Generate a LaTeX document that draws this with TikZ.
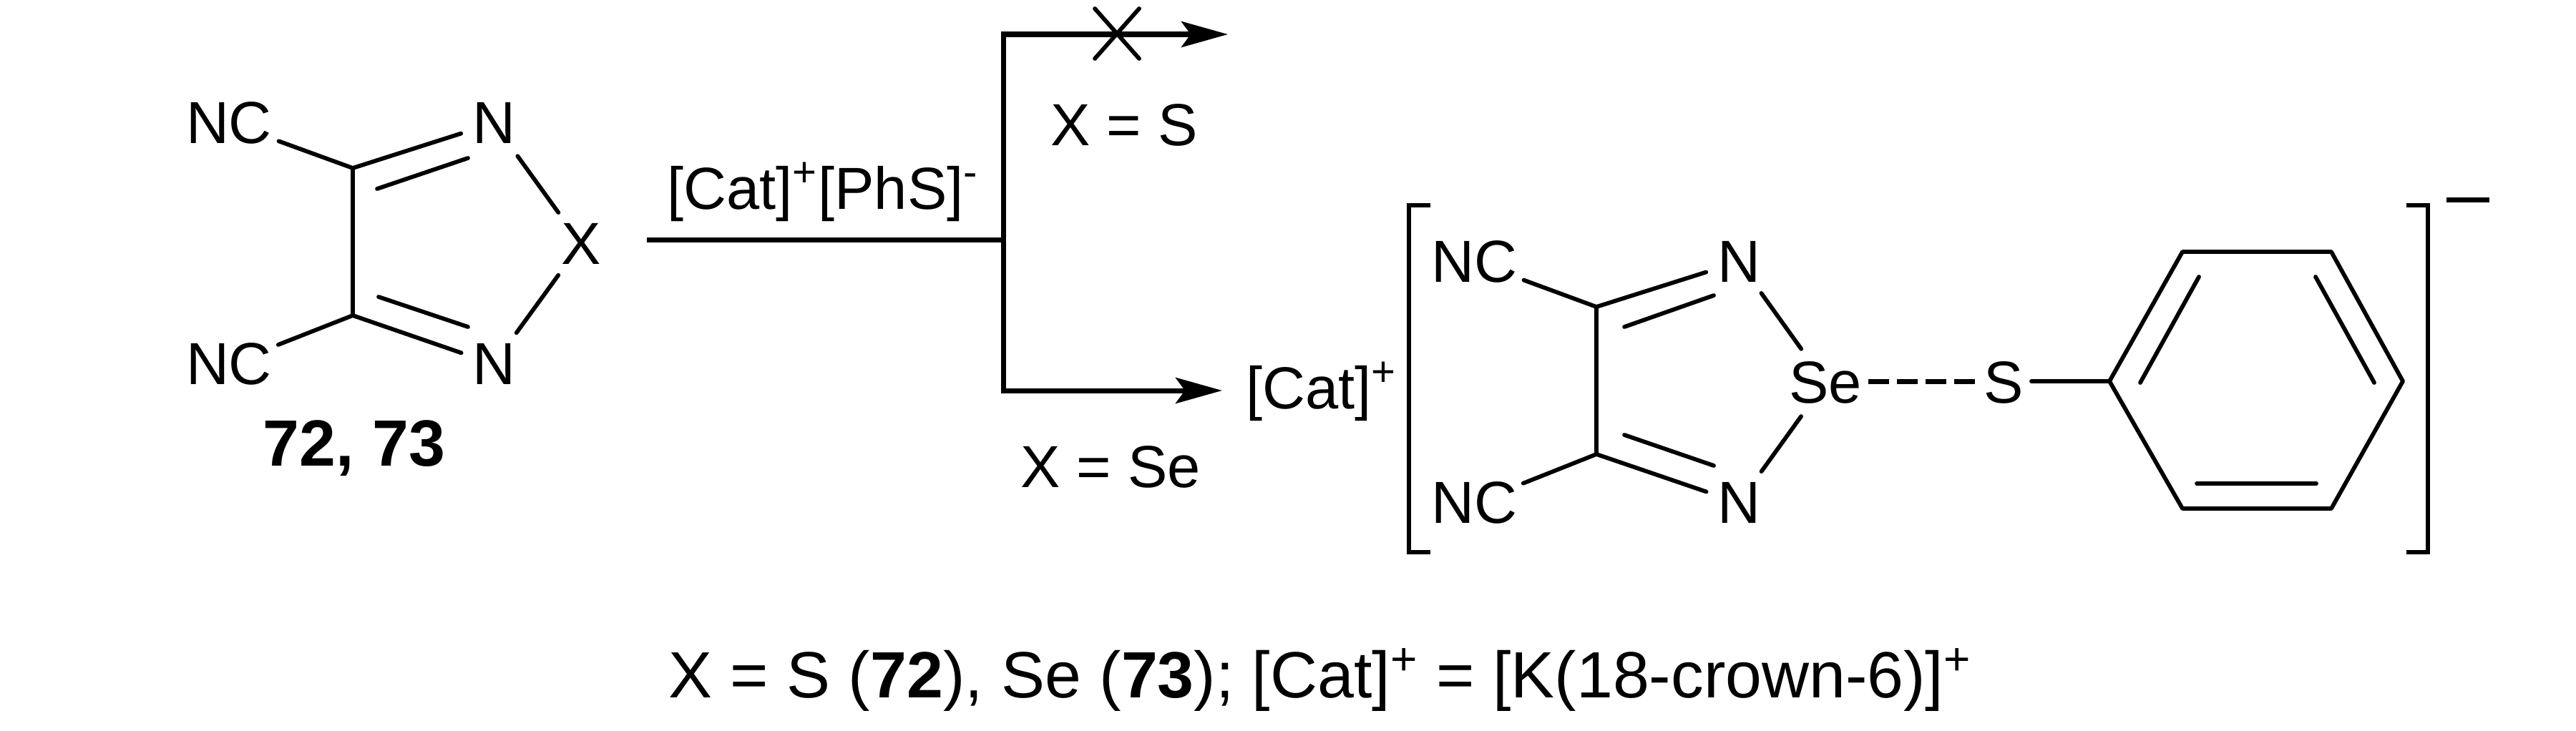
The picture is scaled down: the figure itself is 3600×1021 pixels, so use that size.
\documentclass[tikz,border=0pt]{standalone}
\usepackage{fontspec}
\setmainfont{Liberation Sans}
\usetikzlibrary{arrows.meta}
\tikzset{
  bond/.style={line width=0.058cm,line cap=round},
  rail/.style={line width=0.07cm},
  atom/.style={inner sep=0pt,font=\fontsize{23.6pt}{26pt}\selectfont},
  lab/.style={inner sep=0pt,anchor=base,font=\fontsize{23.6pt}{26pt}\selectfont},
  head/.style={-{Stealth[length=0.65cm,width=0.36cm,inset=0.13cm]}}
}
\begin{document}
\begin{tikzpicture}[x=0.01cm,y=-0.01cm]
\useasboundingbox (0,0) rectangle (3600,1021);
% left molecule
\coordinate (cA) at (493,235);
\coordinate (cB) at (493,441);
\node[atom] (ncA) at (320,172) {NC};
\node[atom] (ncB) at (320,509) {NC};
\node[atom] (nA) at (690,172) {N};
\node[atom] (nB) at (690,509) {N};
\node[atom] (xx) at (812,341) {X};
\draw[bond] (cA) -- (cB);
\draw[bond,shorten >=0.74cm] (cA) -- (ncA.center);
\draw[bond,shorten >=0.74cm] (cB) -- (ncB.center);
\draw[bond,shorten >=0.48cm] (cA) -- (nA.center);
\draw[bond,shorten >=0.48cm] (cB) -- (nB.center);
\draw[bond] (527,264) -- (654,221);
\draw[bond] (529,415) -- (654,457);
\draw[bond,shorten <=0.57cm,shorten >=0.54cm] (nA.center) -- (xx.center);
\draw[bond,shorten <=0.54cm,shorten >=0.54cm] (nB.center) -- (xx.center);
\node[lab,font=\bfseries\fontsize{26pt}{28pt}\selectfont] (lbl) at (495,651) {72, 73};
% reaction arrows
\coordinate (start) at (904,335);
\coordinate (fork) at (1402,335);
\coordinate (up) at (1402,48);
\coordinate (down) at (1402,546);
\coordinate (tipA) at (1716,48);
\coordinate (tipB) at (1708,546);
\draw[rail] (start) -- (fork);
\draw[rail,line cap=rect] (up) -- (down);
\draw[rail,head] (up) -- (tipA);
\draw[rail,head] (down) -- (tipB);
\draw[bond] (1530,12) -- (1592,82);
\draw[bond] (1592,12) -- (1530,82);
\node[lab] (reag) at (1150,292) {[Cat]\textsuperscript{+}[PhS]\textsuperscript{-}};
\node[lab] (xs) at (1571,203) {X = S};
\node[lab] (xse) at (1552,681) {X = Se};
\node[lab] (cat) at (1847,571) {[Cat]\textsuperscript{+}};
% right molecule
\coordinate (dA) at (2231,429);
\coordinate (dB) at (2231,635);
\node[atom] (mcA) at (2060,366) {NC};
\node[atom] (mcB) at (2060,703) {NC};
\node[atom] (mA) at (2430,366) {N};
\node[atom] (mB) at (2430,703) {N};
\node[atom] (se) at (2551,535) {Se};
\node[atom] (ss) at (2800,535) {S};
\draw[bond] (dA) -- (dB);
\draw[bond,shorten >=0.74cm] (dA) -- (mcA.center);
\draw[bond,shorten >=0.74cm] (dB) -- (mcB.center);
\draw[bond,shorten >=0.48cm] (dA) -- (mA.center);
\draw[bond,shorten >=0.48cm] (dB) -- (mB.center);
\draw[bond] (2270,457) -- (2395,413);
\draw[bond] (2270,608) -- (2395,651);
\draw[bond,shorten <=0.54cm,shorten >=0.58cm] (mA.center) -- (se.center);
\draw[bond,shorten <=0.54cm,shorten >=0.58cm] (mB.center) -- (se.center);
\draw[rail,line cap=butt,dash pattern=on 0.29cm off 0.11cm] (2611,533) -- (2761,533);
% phenyl ring
\coordinate (p1) at (2948,533);
\coordinate (p2) at (3050,352);
\coordinate (p3) at (3258,352);
\coordinate (p4) at (3358,533);
\coordinate (p5) at (3258,711);
\coordinate (p6) at (3050,711);
\draw[bond,line join=round] (p1) -- (p2) -- (p3) -- (p4) -- (p5) -- (p6) -- cycle;
\draw[bond] (2839,533) -- (p1);
\draw[bond] (2991,535) -- (3073,387);
\draw[bond] (3318,535) -- (3236,387);
\draw[bond] (3070,676) -- (3237,676);
% brackets
\draw[bond,line cap=butt] (1999,287) -- (1969,287) -- (1969,772) -- (1999,772);
\draw[bond,line cap=butt] (3363,287) -- (3393,287) -- (3393,772) -- (3363,772);
\draw[rail,line cap=butt] (3419,279) -- (3479,279);
% caption
\node[lab,font=\fontsize{26pt}{28pt}\selectfont] (cap) at (1845,975) {X = S (\textbf{72}), Se (\textbf{73}); [Cat]\textsuperscript{+} = [K(18-crown-6)]\textsuperscript{+}};
\end{tikzpicture}
\end{document}
